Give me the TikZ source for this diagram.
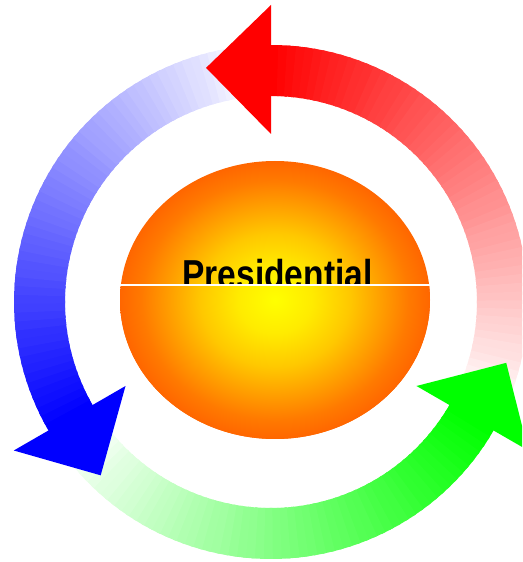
\documentclass[tikz,border=0pt]{standalone}
\usepackage{fontspec}
\setmainfont{Liberation Sans}
\newfontfamily\titlefont{Liberation Sans}[FakeStretch=0.83]
\definecolor{sunyellow}{RGB}{255,255,0}
\definecolor{sunlemon}{RGB}{255,235,0}
\definecolor{sungold}{RGB}{255,200,0}
\definecolor{sunamber}{RGB}{255,122,0}
\definecolor{sunorange}{RGB}{255,102,0}
\pgfdeclareradialshading{sunball}{\pgfpoint{0bp}{0bp}}{color(0bp)=(sunyellow); color(6bp)=(sunlemon); color(12bp)=(sungold); color(21.5bp)=(sunamber); color(25bp)=(sunorange); color(50bp)=(sunorange)}

\begin{document}
\begin{tikzpicture}[
x=0.02cm, y=0.02cm,
sunfill/.style={shading=sunball},
titletext/.style={font=\titlefont\bfseries\fontsize{23}{27}\selectfont, anchor=base, inner sep=0pt}
]
\useasboundingbox (0,0) rectangle (522,562);
\clip (0,0) rectangle (522,562);
\coordinate (hub) at (271,260);
\begin{scope}[shift={(hub)}]
\foreach \col/\base in {red/90, blue/210, green/330} {
  \foreach \i in {0,...,57} {
    \pgfmathsetmacro\a{\base-2*\i+0.4}
    \pgfmathsetmacro\b{\base-2*\i-2.4}
    \pgfmathtruncatemacro\p{100-100*\i/58}
    \fill[\col!\p!white] (\a:206) arc[start angle=\a, end angle=\b, radius=206] -- (\b:257) arc[start angle=\b, end angle=\a, radius=257] -- cycle;
  }
}
\foreach \col/\base in {red/90, blue/210, green/330}
  \fill[\col] (\base:168) -- ({\base+15.5}:243) -- (\base:297) -- cycle;
\end{scope}
\shade[sunfill] (275,262) ellipse [x radius=155, y radius=139];
\node[titletext] (title) at (277.5,273.5) {Presidential};
\begin{scope}
\clip (110,100) rectangle (440,277);
\shade[sunfill] (275,262) ellipse [x radius=155, y radius=139];
\end{scope}
\draw[white, line width=0.6pt] (120,277) -- (430,277);
\end{tikzpicture}
\end{document}
